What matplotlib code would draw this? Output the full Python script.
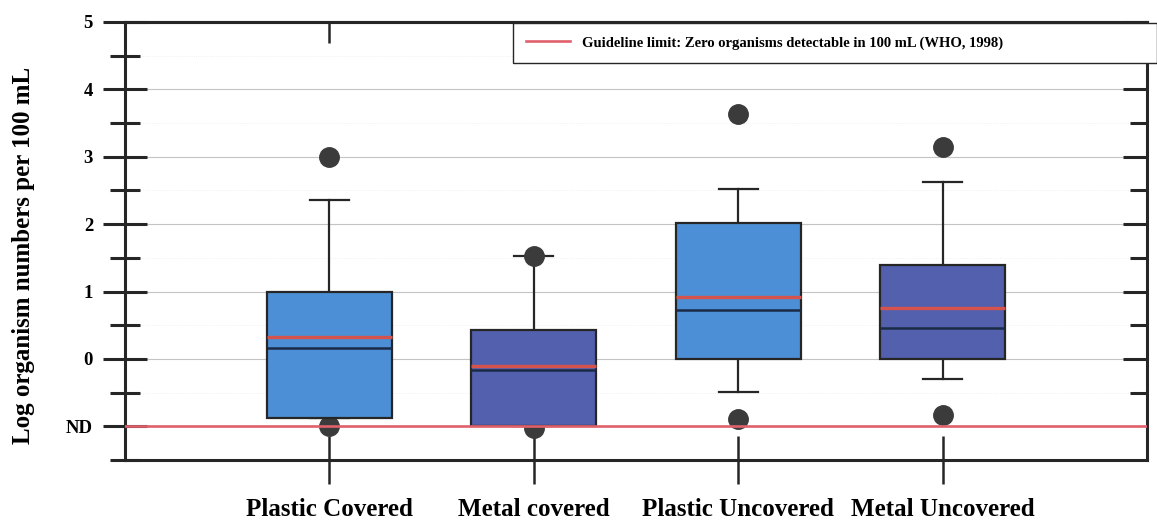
import numpy as np
import matplotlib.pyplot as plt
from matplotlib.lines import Line2D

plt.rcParams['font.family'] = ['Liberation Serif', 'DejaVu Serif']
plt.rcParams['font.weight'] = 'bold'
plt.rcParams['axes.labelweight'] = 'bold'

# log counts per 100 mL, summary per storage container
groups = ["Plastic Covered", "Metal covered", "Plastic Uncovered", "Metal Uncovered"]
q1 = [-0.88, -1.0, 0.0, 0.0]
q3 = [1.0, 0.43, 2.02, 1.40]
medians = [0.16, -0.16, 0.73, 0.46]
means = [0.33, -0.10, 0.92, 0.76]
whis_lo = [-0.88, -1.0, -0.49, -0.30]
whis_hi = [2.36, 1.52, 2.52, 2.62]
outliers = [[3.0, -1.0], [1.52, -1.03], [3.64, -0.89], [3.15, -0.83]]

yticks = [-1, 0, 1, 2, 3, 4, 5]
ytick_labels = ["ND", "0", "1", "2", "3", "4", "5"]
guideline = -1
guideline_label = "Guideline limit: Zero organisms detectable in 100 mL (WHO, 1998)"

box_colors = ["#4d8fd6", "#5260ae", "#4d8fd6", "#5260ae"]
ink = "#262626"

fig = plt.figure(figsize=(11.57, 5.2), dpi=100)
ax = fig.add_axes([125 / 1157, 60 / 520, (1147 - 125) / 1157, (460 - 22) / 520])

stats = []
for i, g in enumerate(groups):
    stats.append(dict(label=g, q1=q1[i], q3=q3[i], med=medians[i], mean=means[i],
                      whislo=whis_lo[i], whishi=whis_hi[i], fliers=outliers[i]))

positions = np.arange(1, len(groups) + 1)
bp = ax.bxp(stats, positions=positions, widths=0.61, capwidths=0.19,
            patch_artist=True, showmeans=True, meanline=True,
            boxprops=dict(edgecolor=ink, linewidth=1.6),
            medianprops=dict(color="#1c2b45", linewidth=1.8),
            meanprops=dict(color="#d6524c", linewidth=2.4, linestyle="-"),
            whiskerprops=dict(color=ink, linewidth=1.6),
            capprops=dict(color=ink, linewidth=1.6),
            flierprops=dict(marker="o", markersize=14, markerfacecolor="#3b3b3b",
                            markeredgecolor="#3b3b3b"))
for patch, c in zip(bp["boxes"], box_colors):
    patch.set_facecolor(c)
    patch.set_zorder(3)
for ln in bp["medians"] + bp["means"]:
    ln.set_zorder(4)
for fl in bp["fliers"]:
    fl.set_zorder(2)

ax.axhline(guideline, color="#e0606c", linewidth=1.9, zorder=5)

ax.set_xlim(0, len(groups) + 1)
ax.set_ylim(-1.5, 5)
ax.set_xticks(positions)
ax.set_xticklabels(groups, fontsize=18)
ax.set_yticks(yticks)
ax.set_yticklabels(ytick_labels, fontsize=13.5)
ax.set_yticks(np.arange(-1.5, 5, 1.0), minor=True)
ax.set_ylabel("Log organism numbers per 100 mL", fontsize=18)
ax.yaxis.set_label_coords(-0.088, 0.468)

ax.grid(axis="y", which="major", color="#c4c4c4", linewidth=0.8, zorder=0)
ax.grid(axis="y", which="minor", color="#ececec", linewidth=0.6, linestyle=":", zorder=0)
ax.set_axisbelow(True)

for s in ax.spines.values():
    s.set_linewidth(2.2)
    s.set_color(ink)

ax.tick_params(axis="y", which="major", direction="inout", length=32, width=2.2,
               color=ink, pad=7)
ax.tick_params(axis="y", which="minor", direction="inout", length=22, width=2.2, color=ink)
ax.tick_params(axis="x", direction="inout", length=34, width=1.8, color=ink, pad=10)

# inward ticks on the right frame (none at the ND line)
ax_r = ax.twinx()
ax_r.set_ylim(ax.get_ylim())
ax_r.set_yticks(yticks[1:])
ax_r.set_yticks(np.arange(-0.5, 5, 1.0), minor=True)
ax_r.tick_params(which="major", direction="in", length=17, width=2.2, color=ink,
                 labelright=False)
ax_r.tick_params(which="minor", direction="in", length=12, width=2.2, color=ink)
for s in ax_r.spines.values():
    s.set_visible(False)

# inward ticks on the top frame
top = ax.secondary_xaxis("top")
top.set_xticks(positions)
top.tick_params(direction="in", length=15, width=1.8, color=ink, labeltop=False)
top.spines["top"].set_linewidth(2.2)
top.spines["top"].set_color(ink)

handle = Line2D([], [], color="#e0606c", linewidth=1.9)
leg = ax_r.legend([handle], [guideline_label], loc="upper left", mode="expand",
                  bbox_to_anchor=(513 / 1157, (520 - 67) / 520, (1157 - 513) / 1157, 44 / 520),
                  bbox_transform=fig.transFigure, borderaxespad=0, fancybox=False,
                  framealpha=1, edgecolor=ink, fontsize=10.5, handlelength=3,
                  borderpad=0.9)
leg.get_frame().set_linewidth(1.0)
leg.set_zorder(10)

fig.savefig("out.png", dpi=100)
